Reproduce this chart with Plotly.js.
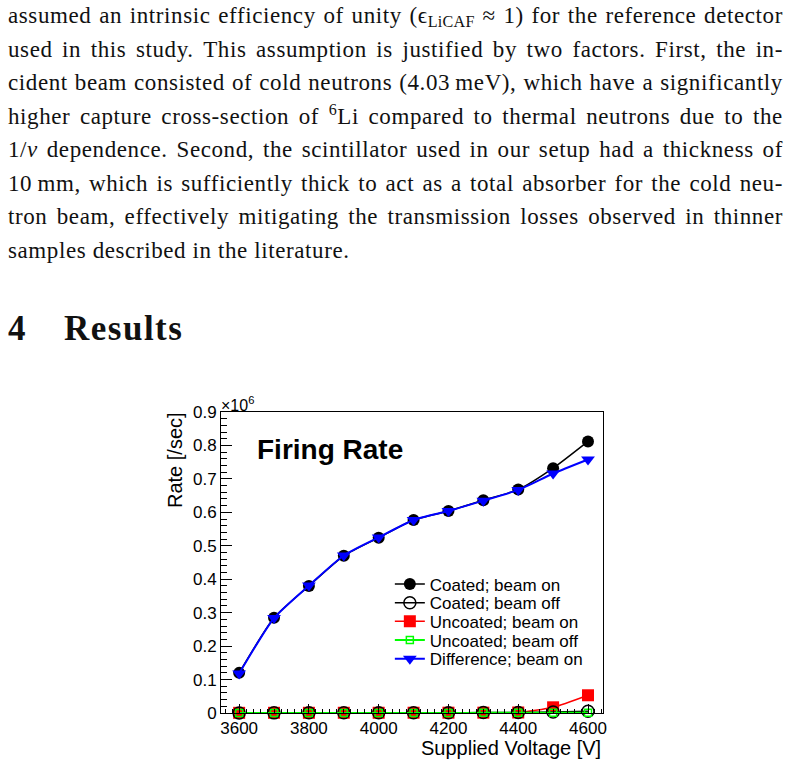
<!DOCTYPE html>
<html>
<head>
<meta charset="utf-8">
<script src="https://cdn.plot.ly/plotly-3.0.1.min.js"></script>
<style>
html,body{margin:0;padding:0;background:#fff;width:790px;height:763px;overflow:hidden;}
#chart{position:absolute;left:0;top:0;width:790px;height:763px;}
#text{position:absolute;left:8px;top:-1px;width:775px;}
.ln{width:775px;height:33.5px;line-height:33.5px;font-family:"Liberation Serif","Times New Roman",serif;font-size:23px;letter-spacing:0.6px;color:#111;white-space:nowrap;}
.ln.j{display:flex;justify-content:space-between;}
.ln sub{font-size:70%;vertical-align:-0.25em;line-height:0;letter-spacing:0.3px;}
.ln sup{font-size:70%;vertical-align:0.55em;line-height:0;}
#head{position:absolute;top:309px;left:0;height:40px;font-family:"Liberation Serif","Times New Roman",serif;font-weight:bold;font-size:35px;color:#111;white-space:nowrap;}
#head span{position:absolute;top:0;}
</style>
</head>
<body>
<div id="chart"></div>
<div id="text"></div>
<div id="head"><span style="left:8px">4</span><span style="left:64px;letter-spacing:1.5px">Results</span></div>
<script>
// ---- data ----
const voltage = [3600, 3700, 3800, 3900, 4000, 4100, 4200, 4300, 4400, 4500, 4600];
// rates in units of 10^6 /sec
const coatedBeamOn    = [0.120, 0.285, 0.380, 0.470, 0.524, 0.577, 0.604, 0.636, 0.668, 0.732, 0.812];
const coatedBeamOff   = [0.0003, 0.0004, 0.0005, 0.0006, 0.0007, 0.0008, 0.0009, 0.0012, 0.0018, 0.0030, 0.0050];
const uncoatedBeamOn  = [0.0005, 0.0006, 0.0006, 0.0007, 0.0007, 0.0008, 0.0009, 0.0010, 0.0015, 0.017, 0.053];
const uncoatedBeamOff = [0.0002, 0.0002, 0.0002, 0.0002, 0.0003, 0.0003, 0.0003, 0.0004, 0.0004, 0.0005, 0.0006];
const differenceBeamOn= [0.118, 0.284, 0.381, 0.471, 0.525, 0.577, 0.604, 0.635, 0.667, 0.716, 0.758];
const seriesNames = ['Coated; beam on', 'Coated; beam off', 'Uncoated; beam on', 'Uncoated; beam off', 'Difference; beam on'];
const xTickStart = 3600, xTickStep = 200;
const yTickStep = 0.1;

// ---- page text ----
const textLines = [
  ['assumed','an','intrinsic','efficiency','of','unity','(\u03f5<sub>LiCAF</sub>','\u2248','1)','for','the','reference','detector'],
  ['used','in','this','study.','This','assumption','is','justified','by','two','factors.','First,','the','in-'],
  ['cident','beam','consisted','of','cold','neutrons','(4.03\u2009meV),','which','have','a','significantly'],
  ['higher','capture','cross-section','of','<sup>6</sup>Li','compared','to','thermal','neutrons','due','to','the'],
  ['1/<i>v</i>','dependence.','Second,','the','scintillator','used','in','our','setup','had','a','thickness','of'],
  ['10\u2009mm,','which','is','sufficiently','thick','to','act','as','a','total','absorber','for','the','cold','neu-'],
  ['tron','beam,','effectively','mitigating','the','transmission','losses','observed','in','thinner'],
  ['samples','described','in','the','literature.']
];
const tdiv = document.getElementById('text');
textLines.forEach((words, i) => {
  const d = document.createElement('div');
  const last = i === textLines.length - 1;
  d.className = 'ln' + (last ? '' : ' j');
  if (last) d.innerHTML = words.join(' ');
  else words.forEach(w => { const s = document.createElement('span'); s.innerHTML = w; d.appendChild(s); });
  tdiv.appendChild(d);
});

// ---- chart ----
const traces = [
  {name: seriesNames[0], x: voltage, y: coatedBeamOn, mode: 'lines+markers', legendrank: 1,
   line: {color: '#000000', width: 1.5, shape: 'spline', smoothing: 0.6},
   marker: {symbol: 'circle', size: 12, color: '#000000'}},
  {name: seriesNames[2], x: voltage, y: uncoatedBeamOn, mode: 'lines+markers', legendrank: 3,
   line: {color: '#ff0000', width: 1.5, shape: 'spline', smoothing: 0.6},
   marker: {symbol: 'square', size: 12, color: '#ff0000'}},
  {name: seriesNames[1], x: voltage, y: coatedBeamOff, mode: 'lines+markers', legendrank: 2,
   line: {color: '#000000', width: 1.5, shape: 'spline', smoothing: 0.6},
   marker: {symbol: 'circle-open', size: 12, color: '#000000', line: {width: 1.5}}},
  {name: seriesNames[3], x: voltage, y: uncoatedBeamOff, mode: 'lines+markers', legendrank: 4,
   line: {color: '#00ff00', width: 2, shape: 'spline', smoothing: 0.6},
   marker: {symbol: 'square-open', size: 7, color: '#00ff00', line: {width: 1.5}}},
  {name: seriesNames[4], x: voltage, y: differenceBeamOn, mode: 'lines+markers', legendrank: 5,
   line: {color: '#0000ff', width: 2, shape: 'spline', smoothing: 0.6},
   marker: {symbol: 'triangle-down', size: 12, color: '#0000ff'}}
];
traces.forEach(t => t.cliponaxis = false);

const fam = '"Liberation Sans", Arial, Helvetica, sans-serif';
const layout = {
  width: 790, height: 763,
  margin: {l: 221, r: 187, t: 412, b: 50, pad: 0},
  paper_bgcolor: 'rgba(0,0,0,0)', plot_bgcolor: '#ffffff',
  font: {family: fam, color: '#000000', size: 17},
  showlegend: true,
  legend: {x: 0.442, y: 0.487, xanchor: 'left', yanchor: 'top', bgcolor: 'rgba(0,0,0,0)',
           borderwidth: 0, font: {family: fam, size: 17, color: '#000000'}, traceorder: 'normal'},
  xaxis: {range: [3548, 4643], tickmode: 'linear', tick0: xTickStart, dtick: xTickStep,
          ticks: 'inside', ticklen: 9, tickwidth: 1, tickcolor: '#000',
          minor: {dtick: 20, tick0: xTickStart, ticks: 'inside', ticklen: 4.5, tickcolor: '#000', tickwidth: 1},
          showline: true, linecolor: '#000', linewidth: 1, mirror: true,
          showgrid: false, zeroline: false, tickfont: {size: 17}},
  yaxis: {range: [0, 0.9], tickmode: 'linear', tick0: 0, dtick: yTickStep,
          ticks: 'inside', ticklen: 11, tickwidth: 1, tickcolor: '#000',
          minor: {dtick: 0.02, tick0: 0, ticks: 'inside', ticklen: 5.5, tickcolor: '#000', tickwidth: 1},
          showline: true, linecolor: '#000', linewidth: 1, mirror: true,
          showgrid: false, zeroline: false, tickfont: {size: 17}},
  annotations: [
    {text: 'Rate [/sec]', xref: 'paper', yref: 'paper', x: 0, y: 1, xanchor: 'center', yanchor: 'top',
     xshift: -46, yshift: 2, textangle: -90, showarrow: false, font: {size: 20}},
    {text: 'Supplied Voltage [V]', xref: 'paper', yref: 'paper', x: 1, y: 0, xanchor: 'right', yanchor: 'middle',
     yshift: -35, showarrow: false, font: {size: 20}},
    {text: '<b>Firing Rate</b>', xref: 'paper', yref: 'paper', x: 0.090, y: 0.874, xanchor: 'left', yanchor: 'middle',
     showarrow: false, font: {size: 28}},
    {text: '\u00d710<sup>6</sup>', xref: 'paper', yref: 'paper', x: 0, y: 1, xanchor: 'left', yanchor: 'bottom',
     xshift: -2, yshift: -4, showarrow: false, font: {size: 16}}
  ]
};

Plotly.newPlot('chart', traces, layout, {staticPlot: true, displayModeBar: false}).then(gd => {
  // tighten legend entry spacing to match the reference (ROOT TLegend)
  const items = Array.from(gd.querySelectorAll('.legend .traces'));
  const parsed = items.map(el => {
    const m = /translate\(\s*([-\d.]+)[ ,]+([-\d.]+)\s*\)/.exec(el.getAttribute('transform') || '');
    return {el, x: m ? +m[1] : 0, y: m ? +m[2] : 0};
  }).sort((a, b) => a.y - b.y);
  if (parsed.length) {
    const y0 = parsed[0].y;
    parsed.forEach((p, i) => p.el.setAttribute('transform', 'translate(' + p.x + ',' + (y0 + i * 18.7) + ')'));
  }
});
</script>
</body>
</html>
